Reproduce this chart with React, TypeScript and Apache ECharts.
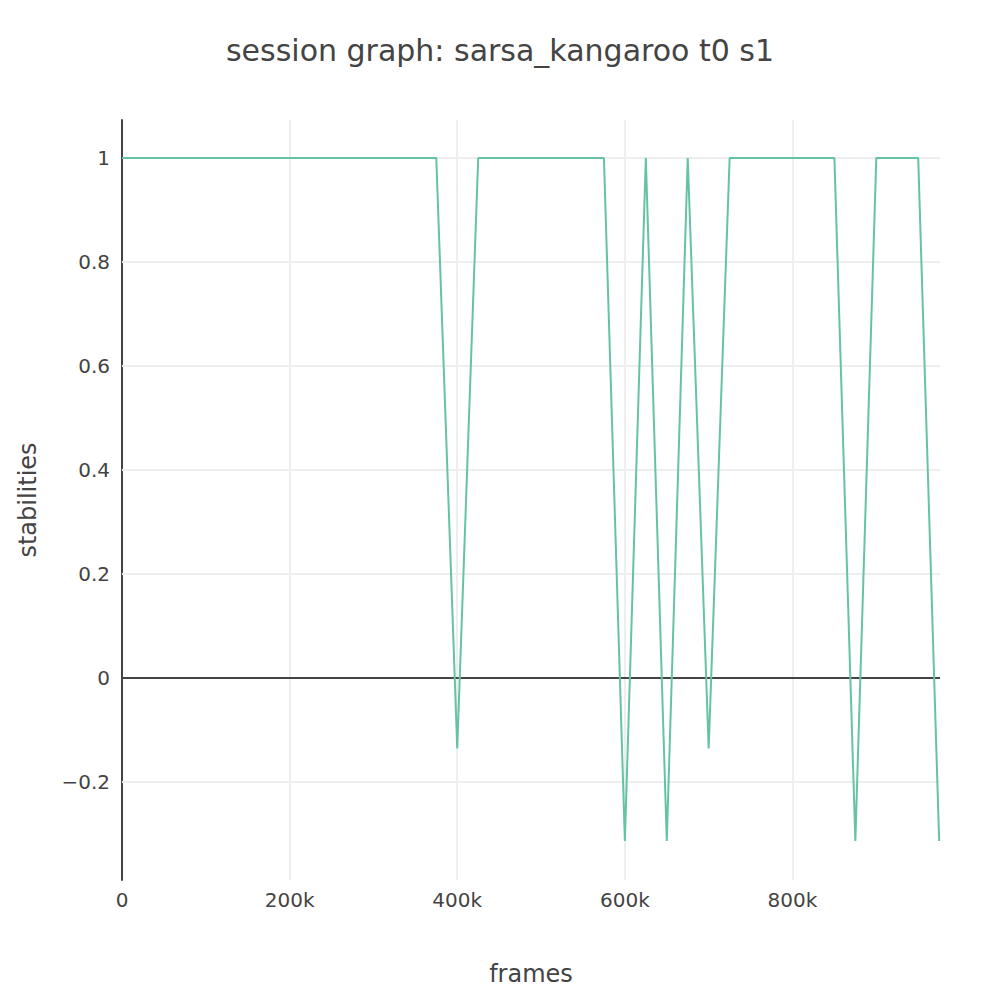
import React, { useEffect, useRef } from 'react';
import * as echarts from 'echarts';

const frames: number[] = [];
for (let f = 0; f <= 975000; f += 25000) frames.push(f);
const dips: Record<number, number> = {
  400000: -0.135,
  600000: -0.313,
  650000: -0.313,
  700000: -0.135,
  875000: -0.313,
  975000: -0.313,
};
const stabilities = frames.map((f) => (f in dips ? dips[f] : 1));
const yTicks = [-0.2, 0, 0.2, 0.4, 0.6, 0.8, 1];
const xTicks = [0, 200000, 400000, 600000, 800000];

const App: React.FC = () => {
  const chartRef = useRef<HTMLDivElement | null>(null);

  useEffect(() => {
    if (!chartRef.current) return;
    const chart = echarts.init(chartRef.current, undefined, { renderer: 'svg' });
    const font = '"DejaVu Sans", sans-serif';
    const option: echarts.EChartsOption = {
      animation: false,
      backgroundColor: '#fff',
      textStyle: { fontFamily: font },
      title: {
        text: 'session graph: sarsa_kangaroo t0 s1',
        left: 'center',
        top: 22,
        textStyle: { fontSize: 30, fontWeight: 'normal', color: '#444', fontFamily: font },
      },
      grid: { left: 112, right: 52, top: 112, bottom: 112 },
      xAxis: {
        type: 'value',
        min: 0,
        max: 976000,
        name: 'frames',
        nameLocation: 'middle',
        nameGap: 82,
        nameTextStyle: { fontSize: 24, color: '#444' },
        axisLine: { show: false },
        axisTick: { show: false },
        splitLine: { show: false },
        axisLabel: {
          fontSize: 20,
          color: '#444',
          margin: 10,
          customValues: xTicks,
          formatter: (v: number) => (v === 0 ? '0' : v / 1000 + 'k'),
        },
      },
      yAxis: {
        type: 'value',
        min: -0.388,
        max: 1.073,
        name: 'stabilities',
        nameLocation: 'middle',
        nameGap: 82,
        nameTextStyle: { fontSize: 24, color: '#444' },
        axisLine: { show: true, onZero: false, lineStyle: { color: '#444', width: 2 } },
        axisTick: { show: false },
        splitLine: { show: false },
        axisLabel: {
          fontSize: 20,
          color: '#444',
          margin: 12,
          customValues: yTicks,
          formatter: (v: number) => (v < 0 ? '\u2212' + Math.abs(v) : String(v)),
        },
      },
      series: [
        {
          type: 'line',
          data: [],
          markLine: {
            symbol: 'none',
            silent: true,
            label: { show: false },
            data: [
              ...xTicks.filter((t) => t > 0).map((t) => ({
                xAxis: t,
                lineStyle: { color: '#eee', width: 2, type: 'solid' as const },
              })),
              ...yTicks.filter((t) => t !== 0).map((t) => ({
                yAxis: t,
                lineStyle: { color: '#eee', width: 2, type: 'solid' as const },
              })),
            ],
          },
        },
        {
          type: 'line',
          data: [],
          z: 4,
          markLine: {
            symbol: 'none',
            silent: true,
            label: { show: false },
            data: [{ yAxis: 0, lineStyle: { color: '#444', width: 2, type: 'solid' } }],
          },
        },
        {
          type: 'line',
          data: frames.map((f, i) => [f, stabilities[i]]),
          showSymbol: false,
          lineStyle: { color: '#66c2a5', width: 2 },
          itemStyle: { color: '#66c2a5' },
          z: 5,
        },
      ],
    };
    chart.setOption(option);
    return () => chart.dispose();
  }, []);

  return <div ref={chartRef} style={{ width: '984px', height: '984px' }} />;
};

export default App;
